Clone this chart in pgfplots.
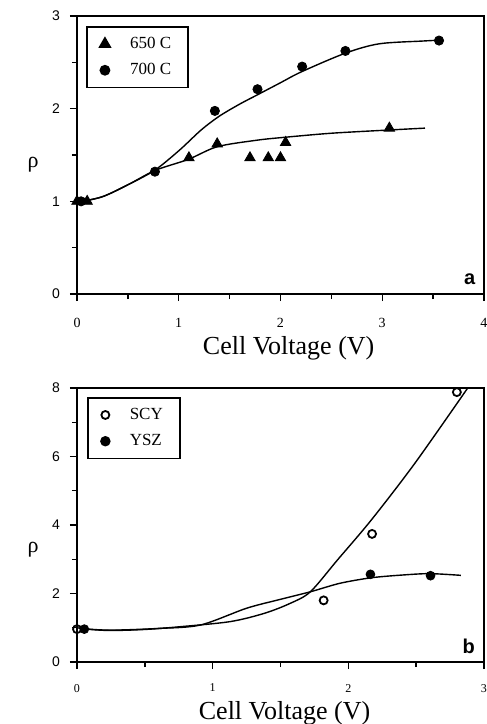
\documentclass[border=0pt]{standalone}
\usepackage{fontspec}
\setmainfont{Liberation Serif}
\setsansfont{Liberation Sans}
\usepackage{pgfplots}
\pgfplotsset{compat=1.18}
\begin{document}
\begin{tikzpicture}
\pgfplotsset{
  myaxis/.style={
    scale only axis,
    width=203.5pt,
    axis line style={line width=0.9pt},
    every tick/.style={black, line width=0.7pt},
    major tick length=3.5pt, minor tick length=2.5pt,
    tick align=outside,
    xtick pos=bottom, ytick pos=left,
    minor x tick num=1, minor y tick num=1,
    /pgf/number format/assume math mode=true,
    xticklabel style={font=\fontsize{7}{8}\selectfont},
    yticklabel style={font=\sffamily\fontsize{7}{8}\selectfont, xshift=-1.5pt},
    ylabel style={rotate=-90, anchor=center, font=\fontsize{11}{12}\selectfont},
    xlabel style={anchor=center, font=\fontsize{13}{14}\selectfont},
    xlabel={Cell Voltage (V)},
    ylabel={ρ},
    legend cell align=left,
    legend image code/.code={\draw[mark repeat=2,mark phase=2] plot coordinates {(0cm,0cm) (0.15cm,0cm) (0.3cm,0cm)};},
    legend style={draw=black, line width=0.8pt, anchor=north west,
      font=\fontsize{8.5}{10}\selectfont, inner xsep=6.5pt, inner ysep=3pt,
      row sep=2pt, /tikz/every odd column/.append style={column sep=8pt}},
  },
  curve/.style={black, line width=0.7pt, smooth, no marks, forget plot},
}
% ---------------- top panel (a) ----------------
\begin{axis}[myaxis, at={(0,0)}, anchor=north west,
  height=139pt,
  xmin=0, xmax=4, ymin=0, ymax=3,
  xtick={0,1,2,3,4}, ytick={0,1,2,3},
  xticklabel style={yshift=-5pt},
  ylabel style={at={(axis description cs:-0.108,0.464)}},
  xlabel style={at={(axis description cs:0.52,0)}, yshift=-27pt},
  legend style={at={(rel axis cs:0.022,0.964)}},
]
\addplot[curve] coordinates {
 (0,0.99) (0.25,1.05) (0.52,1.19) (0.77,1.34) (1.01,1.555) (1.22,1.77)
 (1.4,1.92) (1.6,2.05) (1.774,2.15) (2.0,2.28) (2.21,2.40) (2.64,2.60)
 (2.97,2.70) (3.4,2.73) (3.58,2.74)};
\addplot[curve] coordinates {
 (0,0.99) (0.25,1.05) (0.52,1.19) (0.77,1.335) (1.094,1.453) (1.38,1.59)
 (1.77,1.66) (2.03,1.69) (2.5,1.735) (3.07,1.77) (3.42,1.79)};
\addplot[only marks, mark=triangle*, mark size=3pt, black] coordinates {
 (0,1.0) (0.1,1.0) (1.10,1.47) (1.378,1.62) (1.70,1.47) (1.88,1.47)
 (2.0,1.47) (2.05,1.635) (3.07,1.79)};
\addlegendentry{650 C\hspace{10pt}}
\addplot[only marks, mark=*, mark size=2.3pt, black] coordinates {
 (0.04,1.0) (0.766,1.32) (1.355,1.976) (1.774,2.21) (2.213,2.454)
 (2.638,2.623) (3.558,2.735)};
\addlegendentry{700 C\hspace{10pt}}
\node[font=\sffamily\bfseries\fontsize{10}{11}\selectfont] at (axis cs:3.86,0.16) {a};
\end{axis}
% ---------------- bottom panel (b) ----------------
\begin{axis}[myaxis, at={(0,-186pt)}, anchor=north west,
  height=137pt,
  xmin=0, xmax=3, ymin=0, ymax=8,
  xtick={0,1,2,3}, ytick={0,2,4,6,8},
  xticklabel style={font=\fontsize{6}{7}\selectfont, yshift=-4pt},
  ylabel style={at={(axis description cs:-0.108,0.409)}},
  xlabel style={at={(axis description cs:0.51,0)}, yshift=-25.5pt},
  legend style={at={(rel axis cs:0.025,0.967)}},
]
\addplot[curve] coordinates {
 (0,1.0) (0.1,0.95) (0.25,0.92) (0.5,0.95) (0.76,1.03) (1.13,1.18)
 (1.38,1.42) (1.57,1.71) (1.72,2.05) (1.92,2.98) (2.17,4.15) (2.49,5.8)
 (2.88,8.0)};
\addplot[curve] coordinates {
 (0.05,0.97) (0.25,0.93) (0.6,0.98) (0.91,1.08) (1.25,1.57) (1.5,1.83)
 (1.72,2.05) (1.94,2.30) (2.17,2.46) (2.4,2.54) (2.6,2.58) (2.83,2.53)};
\addplot[only marks, mark=o, mark size=2pt, line width=0.9pt, black] coordinates {
 (0,0.96) (1.818,1.80) (2.175,3.74) (2.80,7.88)};
\addlegendentry{SCY\hspace{10pt}}
\addplot[only marks, mark=*, mark size=2.2pt, black] coordinates {
 (0.054,0.96) (2.163,2.56) (2.606,2.52)};
\addlegendentry{YSZ\hspace{10pt}}
\node[font=\sffamily\bfseries\fontsize{10}{11}\selectfont] at (axis cs:2.887,0.46) {b};
\end{axis}
\pgfresetboundingbox
\path[use as bounding box] (-38.5pt,8pt) rectangle (205pt,-354pt);
\end{tikzpicture}
\end{document}
